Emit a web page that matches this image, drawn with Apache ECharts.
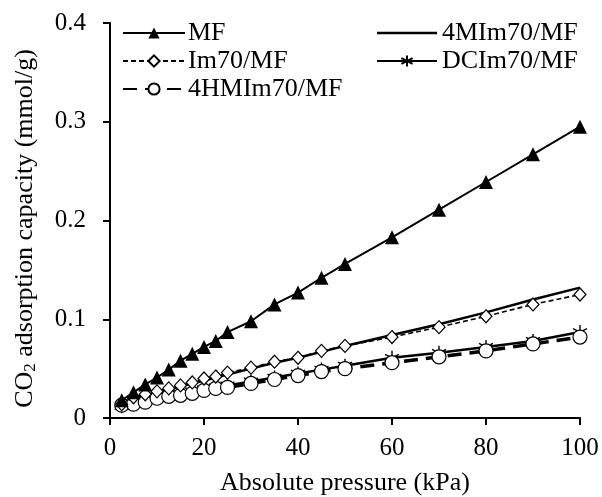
<!DOCTYPE html>
<html><head><meta charset="utf-8">
<script src="https://cdn.jsdelivr.net/npm/echarts@6/dist/echarts.min.js"></script>
<style>html,body{margin:0;padding:0;background:#fff}#c{width:602px;height:497px}</style>
</head><body><div id="c"></div>
<script>
var pressure = [2.5, 5, 7.5, 10, 12.5, 15, 17.5, 20, 22.5, 25, 30, 35, 40, 45, 50, 60, 70, 80, 90, 100];
var mf      = [0.018, 0.026, 0.034, 0.041, 0.049, 0.058, 0.065, 0.072, 0.078, 0.087, 0.098, 0.115, 0.127, 0.142, 0.156, 0.183, 0.211, 0.239, 0.267, 0.295];
var im70    = [0.014, 0.021, 0.024, 0.027, 0.030, 0.033, 0.036, 0.040, 0.042, 0.046, 0.051, 0.057, 0.061, 0.068, 0.073, 0.082, 0.092, 0.103, 0.115, 0.125];
var m4im70  = [0.014, 0.020, 0.023, 0.026, 0.029, 0.032, 0.035, 0.038, 0.041, 0.044, 0.050, 0.056, 0.061, 0.067, 0.073, 0.084, 0.095, 0.107, 0.120, 0.132];
var dcim70  = [0.012, 0.015, 0.018, 0.020, 0.022, 0.025, 0.027, 0.029, 0.031, 0.033, 0.037, 0.041, 0.045, 0.049, 0.053, 0.061, 0.066, 0.072, 0.078, 0.087];
var hm4im70 = [0.013, 0.014, 0.016, 0.020, 0.022, 0.023, 0.025, 0.028, 0.030, 0.031, 0.035, 0.039, 0.043, 0.047, 0.050, 0.056, 0.062, 0.068, 0.075, 0.082];
var names = ['MF', 'Im70/MF', '4HMIm70/MF', '4MIm70/MF', 'DCIm70/MF'];

function pts(arr){ return pressure.map(function(p,i){ return [p, arr[i]]; }); }
var font = 'Liberation Serif, Times New Roman, serif';
var asterisk = 'path://M0,-6L0,6M-5.2,-3L5.2,3M-5.2,3L5.2,-3';
var legendTextL = { fontFamily: font, fontSize: 26, lineHeight: 26, color: '#000', padding: [0,0,0,-2] };
var legendTextR = { fontFamily: font, fontSize: 26, lineHeight: 26, color: '#000', padding: [0,0,0,0] };

var chart = echarts.init(document.getElementById('c'));
chart.setOption({
  animation: false,
  backgroundColor: '#fff',
  textStyle: { fontFamily: font, color: '#000' },
  grid: { left: 110, right: 22, top: 23, bottom: 79, containLabel: false, outerBoundsMode: 'none' },
  legend: [
    { left: 122, top: 20, orient: 'vertical', itemWidth: 62, itemHeight: 14, itemGap: 2, padding: 0,
      data: [names[0], names[1], names[2]], textStyle: legendTextL },
    { left: 376, top: 20, orient: 'vertical', itemWidth: 60, itemHeight: 14, itemGap: 2, padding: 0,
      data: [{ name: names[3], icon: 'path://M0,0L60,0L60,2.5L0,2.5Z' }, names[4]], textStyle: legendTextR }
  ],
  xAxis: {
    type: 'value', min: 0, max: 100, interval: 20,
    name: 'Absolute pressure (kPa)', nameLocation: 'middle', nameGap: 52,
    nameTextStyle: { fontFamily: font, fontSize: 26, color: '#000' },
    axisLine: { lineStyle: { color: '#000', width: 2 } },
    axisTick: { inside: false, length: 7, lineStyle: { color: '#000', width: 2 } },
    axisLabel: { fontFamily: font, fontSize: 25, color: '#000', margin: 18 },
    splitLine: { show: false }
  },
  yAxis: {
    type: 'value', min: 0, max: 0.4, interval: 0.1,
    name: 'CO{sub|2} adsorption capacity (mmol/g)', nameLocation: 'middle', nameGap: 71,
    nameTextStyle: { fontFamily: font, fontSize: 26, color: '#000', padding: [0, 16, 0, 0],
      rich: { sub: { fontFamily: font, fontSize: 17, color: '#000', verticalAlign: 'bottom', padding: [10,0,0,0] } } },
    axisLine: { show: true, lineStyle: { color: '#000', width: 2 } },
    axisTick: { show: true, inside: false, length: 7, lineStyle: { color: '#000', width: 2 } },
    axisLabel: { fontFamily: font, fontSize: 25, color: '#000', margin: 24 },
    splitLine: { show: false }
  },
  series: [
    { name: names[3], type: 'line', data: pts(m4im70), symbol: 'none', z: 2,
      lineStyle: { color: '#000', width: 2.5 }, itemStyle: { color: '#000' } },
    { name: names[4], type: 'line', data: pts(dcim70), symbol: asterisk, symbolSize: 14, z: 3,
      lineStyle: { color: '#000', width: 2.5 },
      itemStyle: { color: 'none', borderColor: '#000', borderWidth: 1.4 } },
    { name: names[2], type: 'line', data: pts(hm4im70), symbol: 'circle', symbolSize: 14, z: 4,
      lineStyle: { color: '#000', width: 3.5, type: [14, 8] },
      itemStyle: { color: '#fff', borderColor: '#000', borderWidth: 1.2 } },
    { name: names[1], type: 'line', data: pts(im70), symbol: 'diamond', symbolSize: [12, 13], z: 5,
      lineStyle: { color: '#000', width: 1.6, type: [5, 3] },
      itemStyle: { color: '#fff', borderColor: '#000', borderWidth: 1.2 } },
    { name: names[0], type: 'line', data: pts(mf), symbol: 'triangle', symbolSize: 14, z: 6,
      lineStyle: { color: '#000', width: 2 }, itemStyle: { color: '#000' } }
  ]
});
</script></body></html>
